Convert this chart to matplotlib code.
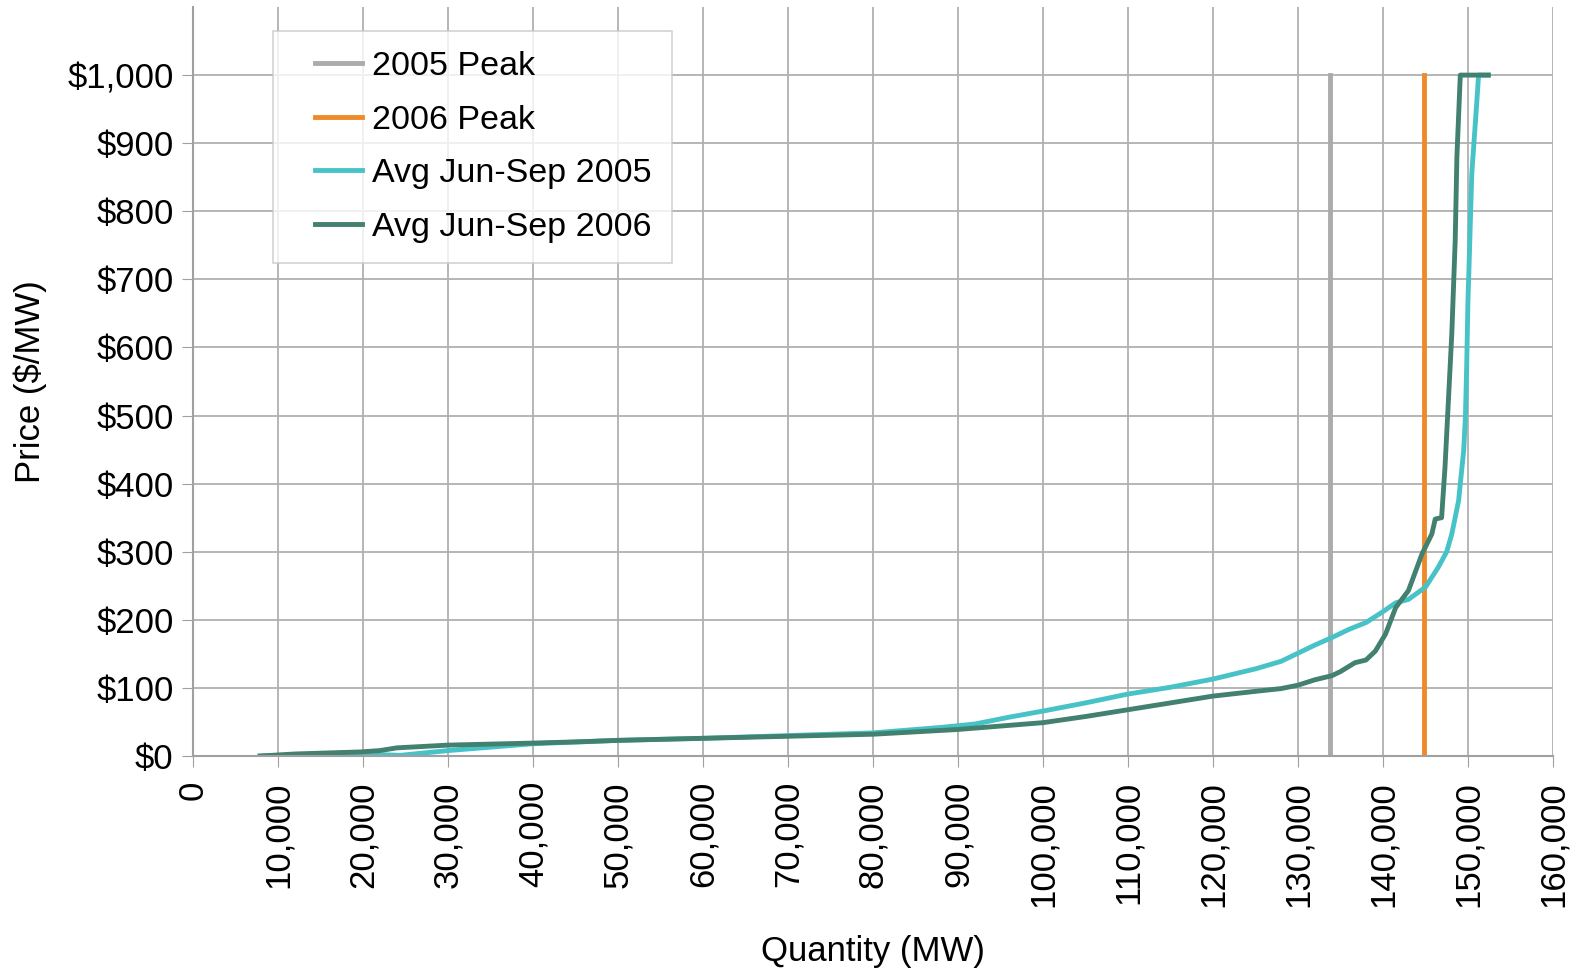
import matplotlib.pyplot as plt
from matplotlib.ticker import FuncFormatter
from matplotlib.lines import Line2D
from matplotlib.legend_handler import HandlerLine2D

plt.rcParams['font.family'] = ['Liberation Sans', 'DejaVu Sans']

# supply curve data (MW, $/MW)
q_2005 = [7900, 15000, 19700, 24400, 30000, 40000, 50000, 60000, 70000, 80000,
          88000, 92000, 96000, 100000, 105000, 110000, 115000, 120000, 125000, 128000,
          130000, 132000, 134000, 136000, 138000, 140000, 141500, 143000, 145000, 146500,
          147500, 148100, 148900, 149500, 149700, 149850, 150000, 150100, 150450, 151000,
          151250, 152400]
p_2005 = [0, 2, 3, 1, 8, 18, 23, 26, 30, 34,
          42, 47, 57, 66, 78, 91, 101, 113, 128, 139,
          151, 163, 174, 186, 196, 212, 225, 230, 248, 277,
          300, 326, 375, 449, 498, 571, 669, 708, 855, 953,
          1000, 1000]

q_2006 = [7900, 12000, 19700, 22000, 24000, 30000, 40000, 45700, 50000, 60000,
          70000, 80000, 90000, 95000, 100000, 105000, 110000, 115000, 120000, 125000,
          128000, 130000, 132000, 134000, 135000, 136700, 138000, 139100, 140300, 141500,
          143000, 144600, 145750, 146150, 146900, 147300, 147700, 148100, 148500, 148700,
          149100, 152400]
p_2006 = [0, 3, 6, 8, 12, 16, 19, 21, 23, 26,
          29, 32, 39, 44, 49, 58, 68, 78, 88, 95,
          99, 104, 112, 118, 124, 137, 141, 154, 179, 218,
          243, 297, 326, 348, 350, 424, 522, 620, 757, 880,
          1000, 1000]

peak_2005 = 133800
peak_2006 = 144800
peak_range = [0, 1000]

x_ticks = list(range(0, 160001, 10000))
y_ticks = list(range(0, 1001, 100))

fig = plt.figure(figsize=(15.75, 9.72), dpi=100)
ax = fig.add_axes([0.1225, 0.2222, 0.8635, 0.7706])

ax.plot([peak_2005, peak_2005], peak_range, color='#ababab', lw=3.5, label='2005 Peak')
ax.plot([peak_2006, peak_2006], peak_range, color='#ee8a2a', lw=3.5, label='2006 Peak')
ax.plot(q_2005, p_2005, color='#47c3c8', lw=3.5, label='Avg Jun-Sep 2005')
ax.plot(q_2006, p_2006, color='#428070', lw=3.5, label='Avg Jun-Sep 2006')

ax.set_xlim(0, 160000)
ax.set_ylim(0, 1100)
ax.set_xticks(x_ticks)
ax.set_yticks(y_ticks)
ax.xaxis.set_major_formatter(FuncFormatter(lambda v, _: f'{int(v):,}'))
ax.yaxis.set_major_formatter(FuncFormatter(lambda v, _: f'${int(v):,}'))
ax.tick_params(axis='x', labelrotation=90, labelsize=25, length=8, color='#a0a0a0', pad=10)
ax.tick_params(axis='y', labelsize=25, length=8, color='#a0a0a0', pad=6)
for lbl in ax.get_xticklabels():
    lbl.set_va('top')

ax.grid(True, color='#b0b0b0', lw=1.3)
ax.set_axisbelow(True)
for s in ['top', 'right']:
    ax.spines[s].set_visible(False)
for s in ['left', 'bottom']:
    ax.spines[s].set_color('#a0a0a0')
    ax.spines[s].set_linewidth(1.5)

ax.set_xlabel('Quantity (MW)', fontsize=25, labelpad=20)
ax.set_ylabel('Price ($/MW)', fontsize=25)
ax.yaxis.set_label_coords(-0.107, 0.5)

leg = ax.legend(loc='upper left', bbox_to_anchor=(0.059, 0.968), borderaxespad=0,
                fontsize=24.5, frameon=True, fancybox=False, handlelength=2.0,
                handletextpad=0.3, labelspacing=0.66, borderpad=0.6,
                handler_map={Line2D: HandlerLine2D(xpad=0.62)})
leg.get_frame().set_edgecolor('#c8c8c8')
leg.get_frame().set_linewidth(1.2)

fig.savefig('out.png', dpi=100)
